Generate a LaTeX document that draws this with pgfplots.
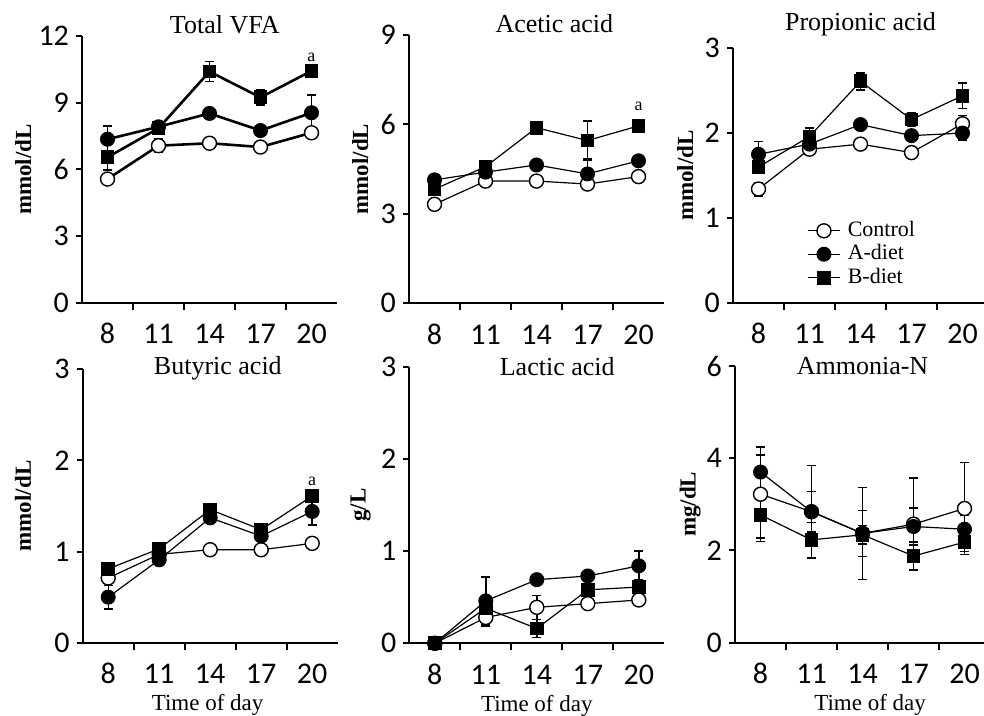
\documentclass[border=0pt]{standalone}
\usepackage{pgfplots}
\pgfplotsset{compat=1.18}
\usepackage{fontspec}
\setmainfont{Liberation Serif}
\newfontfamily\carlito{Carlito}
\pgfplotsset{
  panel/.style={
    scale only axis, width=127.5pt, anchor=south west,
    xmin=-0.5, xmax=4.5,
    axis x line*=bottom, axis y line*=left,
    axis line style={line width=1pt, black},
    xtick={0,...,4}, xticklabels={8,11,14,17,20},
    minor xtick={0.5,1.5,2.5,3.5},
    major x tick style={draw=none},
    minor x tick style={line width=1pt, black},
    minor tick length=3.5pt,
    major tick length=3pt,
    tick align=outside,
    ytick style={line width=1pt, black},
    /pgf/number format/assume math mode=true,
    tick label style={font=\carlito\fontsize{15}{17}\selectfont},
    xticklabel style={anchor=base, yshift=-17.5pt},
    yticklabel style={anchor=east},
    title style={font=\fontsize{13}{15}\selectfont, anchor=base},
    ylabel style={font=\bfseries\fontsize{11.5}{13}\selectfont, anchor=center},
    xlabel style={font=\fontsize{11.5}{13}\selectfont, at={(axis description cs:0.5,0)}, anchor=base, yshift=-34pt},
    clip=false,
    every axis plot/.append style={black, line width=0.6pt,
      error bars/y dir=both, error bars/y explicit,
      error bars/error mark=-,
      error bars/error bar style={line width=0.7pt, black, solid},
      error bars/error mark options={rotate=90, mark size=2.2pt, line width=0.7pt, black}},
  },
  ctrl/.style={mark=*, mark size=3.5pt, mark options={fill=white, draw=black, line width=0.7pt, solid}},
  adiet/.style={mark=*, mark size=3.5pt, mark options={fill=black, draw=black, line width=0.5pt, solid}},
  bdiet/.style={mark=square*, mark size=3.2pt, mark options={fill=black, draw=black, line width=0.5pt, solid}},
}
\begin{document}
\begin{tikzpicture}
\useasboundingbox (0,0) rectangle (492pt,358pt);
% ---------------- Total VFA
\begin{axis}[panel, at={(41pt,206.5pt)}, height=133.5pt,
  ymin=0, ymax=12, ytick={0,3,6,9,12},
  title={Total VFA}, title style={at={(axis description cs:0.56,1)}, yshift=-4.65pt},
  ylabel={mmol/dL}, ylabel style={at={(axis description cs:-0.23,0.5)}},
  every axis plot/.append style={line width=1.3pt}]
\addplot[ctrl] coordinates {(0,5.57) +- (0,0.25) (1,7.07) +- (0,0.3) (2,7.18) +- (0,0.15) (3,7.01) +- (0,0.15) (4,7.65) +- (0,0.2)};
\addplot[adiet] coordinates {(0,7.36) +- (0,0.6) (1,7.92) +- (0,0.2) (2,8.52) +- (0,0.2) (3,7.75) +- (0,0.2) (4,8.55) +- (0,0.8)};
\addplot[bdiet] coordinates {(0,6.55) +- (0,0.57) (1,7.85) +- (0,0.2) (2,10.4) +- (0,0.45) (3,9.24) +- (0,0.35) (4,10.43) +- (0,0.1)};
\node[font=\fontsize{9}{10}\selectfont] at (axis cs:4,11.05) {a};
\end{axis}
% ---------------- Acetic acid
\begin{axis}[panel, at={(204.5pt,206.35pt)}, height=134.15pt,
  ymin=0, ymax=9, ytick={0,3,6,9},
  title={Acetic acid}, title style={at={(axis description cs:0.57,1)}, yshift=-4.65pt},
  ylabel={mmol/dL}, ylabel style={at={(axis description cs:-0.191,0.5)}}]
\addplot[ctrl] coordinates {(0,3.32) +- (0,0.1) (1,4.1) +- (0,0.1) (2,4.1) +- (0,0.1) (3,4.0) +- (0,0.1) (4,4.25) +- (0,0.1)};
\addplot[adiet] coordinates {(0,4.14) +- (0,0.1) (1,4.4) +- (0,0.1) (2,4.64) +- (0,0.1) (3,4.34) +- (0,0.5) (4,4.78) +- (0,0.1)};
\addplot[bdiet] coordinates {(0,3.83) +- (0,0.1) (1,4.58) +- (0,0.1) (2,5.89) +- (0,0.1) (3,5.46) +- (0,0.65) (4,5.95) +- (0,0.1)};
\node[font=\fontsize{9}{10}\selectfont] at (axis cs:4,6.59) {a};
\end{axis}
% ---------------- Propionic acid
\begin{axis}[panel, at={(366.5pt,206.65pt)}, height=127.2pt,
  ymin=0, ymax=3, ytick={0,1,2,3},
  title={Propionic acid}, title style={at={(axis description cs:0.5,1)}, yshift=2.8pt},
  ylabel={mmol/dL}, ylabel style={at={(axis description cs:-0.1875,0.5)}},
  legend style={at={(axis description cs:0.29,0.33)}, anchor=north west, draw=none, fill=none,
    font=\fontsize{11}{13}\selectfont, inner sep=0pt, row sep=0pt, column sep=3pt,
    nodes={inner sep=0.6pt, text height=8pt, text depth=2.5pt}},
  legend cell align=left,
  legend image code/.code={\draw[mark repeat=2,mark phase=2,#1] plot coordinates {(0pt,0pt) (8pt,0pt) (16pt,0pt)};}]
\addplot[ctrl] coordinates {(0,1.34) +- (0,0.08) (1,1.81) +- (0,0.03) (2,1.87) +- (0,0.03) (3,1.77) +- (0,0.03) (4,2.11) +- (0,0.1)};
\addplot[adiet] coordinates {(0,1.75) +- (0,0.15) (1,1.87) +- (0,0.03) (2,2.10) +- (0,0.03) (3,1.97) +- (0,0.03) (4,2.0) +- (0,0.08)};
\addplot[bdiet] coordinates {(0,1.60) +- (0,0.05) (1,1.96) +- (0,0.1) (2,2.61) +- (0,0.1) (3,2.16) +- (0,0.08) (4,2.44) +- (0,0.15)};
\legend{Control, A-diet, B-diet}
\end{axis}
% ---------------- Butyric acid
\begin{axis}[panel, at={(41.35pt,36.65pt)}, height=136.7pt,
  ymin=0, ymax=3, ytick={0,1,2,3},
  title={Butyric acid}, title style={at={(axis description cs:0.53,1)}, yshift=-8.5pt},
  ylabel={mmol/dL}, ylabel style={at={(axis description cs:-0.234,0.5)}},
  xlabel={Time of day}, xlabel style={at={(axis description cs:0.49,0)}}]
\addplot[ctrl] coordinates {(0,0.71) +- (0,0.03) (1,0.97) +- (0,0.03) (2,1.02) +- (0,0.03) (3,1.02) +- (0,0.03) (4,1.09) +- (0,0.03)};
\addplot[adiet] coordinates {(0,0.50) +- (0,0.13) (1,0.91) +- (0,0.03) (2,1.37) +- (0,0.03) (3,1.17) +- (0,0.03) (4,1.44) +- (0,0.15)};
\addplot[bdiet] coordinates {(0,0.81) +- (0,0.03) (1,1.03) +- (0,0.03) (2,1.46) +- (0,0.03) (3,1.24) +- (0,0.03) (4,1.61) +- (0,0.03)};
\node[font=\fontsize{9}{10}\selectfont] at (axis cs:4,1.77) {a};
\end{axis}
% ---------------- Lactic acid
\begin{axis}[panel, at={(204.65pt,36.35pt)}, height=138.3pt,
  ymin=0, ymax=3, ytick={0,1,2,3},
  title={Lactic acid}, title style={at={(axis description cs:0.58,1)}, yshift=-10.2pt},
  ylabel={g/L}, ylabel style={at={(axis description cs:-0.191,0.5)}},
  xlabel={Time of day}, xlabel style={at={(axis description cs:0.5,0)}}]
\addplot[ctrl] coordinates {(0,0) (1,0.28) +- (0,0.1) (2,0.39) +- (0,0.13) (3,0.43) +- (0,0.05) (4,0.47) +- (0,0.03)};
\addplot[adiet] coordinates {(0,0) (1,0.46) +- (0,0.26) (2,0.69) +- (0,0.03) (3,0.73) +- (0,0.03) (4,0.84) +- (0,0.16)};
\addplot[bdiet] coordinates {(0,0) (1,0.38) +- (0,0.03) (2,0.16) +- (0,0.1) (3,0.58) +- (0,0.05) (4,0.61) +- (0,0.08)};
\end{axis}
% ---------------- Ammonia-N
\begin{axis}[panel, at={(367.5pt,36.65pt)}, height=138.35pt,
  ymin=0, ymax=6, ytick={0,2,4,6},
  title={Ammonia-N}, title style={at={(axis description cs:0.5,1)}, yshift=-10.2pt},
  ylabel={mg/dL}, ylabel style={at={(axis description cs:-0.176,0.5)}},
  xlabel={Time of day}, xlabel style={at={(axis description cs:0.53,0)}}]
\addplot[ctrl] coordinates {(0,3.22) +- (0,1.02) (1,2.84) +- (0,1.0) (2,2.37) +- (0,1.0) (3,2.57) +- (0,1.0) (4,2.91) +- (0,1.0)};
\addplot[adiet] coordinates {(0,3.70) +- (0,0.37) (1,2.84) +- (0,0.44) (2,2.37) +- (0,0.5) (3,2.52) +- (0,0.4) (4,2.46) +- (0,0.3)};
\addplot[bdiet] coordinates {(0,2.77) +- (0,0.5) (1,2.23) +- (0,0.38) (2,2.34) +- (0,0.2) (3,1.88) +- (0,0.3) (4,2.18) +- (0,0.2)};
\end{axis}
\end{tikzpicture}
\end{document}
